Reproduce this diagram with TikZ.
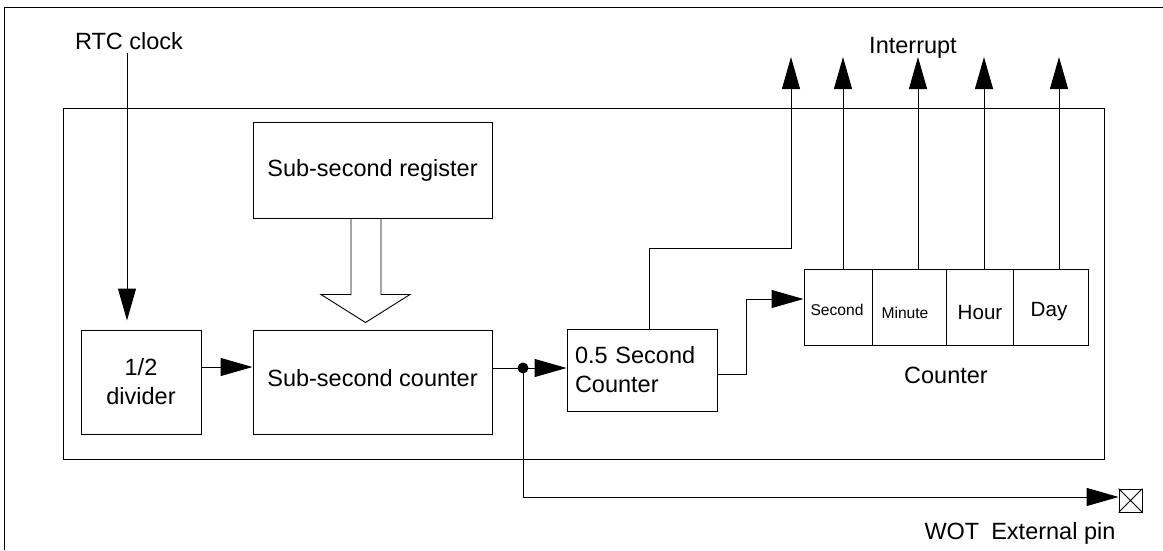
\documentclass[tikz,border=0pt]{standalone}
\usepackage{fontspec}
\setmainfont{Liberation Sans}
\usetikzlibrary{arrows.meta,calc}
\begin{document}
\begin{tikzpicture}[x=1pt,y=-1pt,line width=1pt,
  every node/.style={font=\fontsize{23.5}{29}\selectfont, inner sep=0pt},
  box/.style={draw, line width=1pt},
  arr/.style={-{Triangle[length=32pt,width=18pt]}},
  small/.style={font=\fontsize{15.6}{18}\selectfont},
  mid/.style={font=\fontsize{20.6}{24}\selectfont}]
\useasboundingbox (0,0) rectangle (1163,550);
% frames
\draw (4,550) -- (4,7) -- (1163,7);
\draw (63,108) rectangle (1104,459);
% blocks
\node[box, minimum width=239pt, minimum height=96pt] (ssr) at (372.5,170) {Sub-second register};
\node[box, minimum width=120pt, minimum height=104pt, align=center] (div) at (141,382) {1/2\\divider};
\node[box, minimum width=239pt, minimum height=104pt, text height=17pt, text depth=9pt] (ssc) at (372.5,382) {Sub-second counter};
\node[box, minimum width=150pt, minimum height=82pt, text width=134pt, align=left] (half) at (642,370) {0.5 Second\\Counter};
% counter table
\node[box, minimum width=68pt, minimum height=76pt] (sec) at (838,307) {};
\node[box, minimum width=74pt, minimum height=76pt] (min) at (909,307) {};
\node[box, minimum width=67pt, minimum height=76pt] (hour) at (979.5,307) {};
\node[box, minimum width=75pt, minimum height=76pt] (day) at (1050.5,307) {};
\node[small, anchor=base] (secl) at (837,315) {Second};
\node[small, anchor=base] (minl) at (905,318) {Minute};
\node[mid, anchor=base] (hourl) at (980,319) {Hour};
\node[mid, anchor=base] (dayl) at (1049,316) {Day};
\node[anchor=base] (cnt) at (946,383) {Counter};
% labels
\node[anchor=base] (rtc) at (129,49) {RTC clock};
\node[anchor=base] (intr) at (913,53) {Interrupt};
\node[anchor=base west] (wot) at (924,539) {WOT\hspace{12pt}External pin};
% pin
\node[draw, line width=0.8pt, minimum size=23pt] (pin) at (1130.5,500.5) {};
\draw[line width=0.8pt] (pin.north west) -- (pin.south east) (pin.north east) -- (pin.south west);
% hollow arrow register -> counter
\coordinate (hs) at ($(ssr.south)+(-7,0)$);
\draw[line width=0.9pt] ($(hs)+(-14.5,0)$) -- ($(hs)+(-14.5,76)$) -- ($(hs)+(-44.5,76)$)
   -- ($(hs |- ssc.north)+(0,-7)$) -- ($(hs)+(44.5,76)$) -- ($(hs)+(15.5,76)$) -- ($(hs)+(15.5,0)$);
% connectors
\coordinate (clk) at (127,53);
\draw[arr, shorten >=9pt] (clk) -- (clk |- div.north);
\draw[arr] ($(div.east)+(0,-15)$) -- ($(ssc.west)+(0,-15)$);
\coordinate (dot) at (523,368);
\draw (ssc.east |- dot) -- (dot);
\draw[arr] (dot) -- (dot -| half.west);
\fill (dot) circle (5.5pt);
\draw[arr] (dot) |- ($(pin.west)+(0,-3.5)$);
\coordinate (c1) at (746,374);
\draw[arr] (half.east |- c1) -- (c1) |- ($(sec.west)+(0,-8)$);
\coordinate (c0) at (649,248);
\coordinate (i0) at (791,57);
\draw[arr] (half.north -| c0) -- (c0) -| (i0);
\coordinate (i1) at (843,57);
\coordinate (i2) at (918,57);
\coordinate (i3) at (984,57);
\coordinate (i4) at (1059,57);
\draw[arr] (sec.north -| i1) -- (i1);
\draw[arr] (min.north -| i2) -- (i2);
\draw[arr] (hour.north -| i3) -- (i3);
\draw[arr] (day.north -| i4) -- (i4);
\end{tikzpicture}
\end{document}
